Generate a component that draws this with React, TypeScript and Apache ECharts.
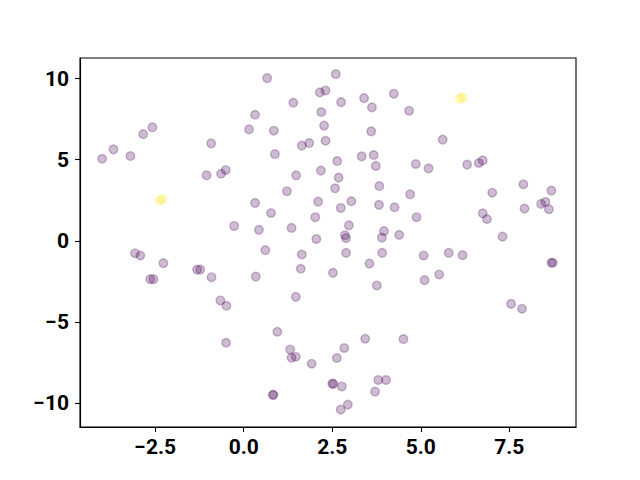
import React, { useEffect, useRef } from "react";
import * as echarts from "echarts";

const xTicks = [-2.5, 0, 2.5, 5, 7.5];
const yTicks = [-10, -5, 0, 5, 10];

// class 0 points (purple)
const purplePoints: [number, number][] = [
  [-4.0, 5.06], [-3.68, 5.64], [-3.2, 5.23], [-2.84, 6.58], [-2.58, 7.0],
  [-0.92, 6.01], [-1.05, 4.04], [-0.64, 4.14], [-0.51, 4.37], [-0.27, 0.92],
  [0.66, 10.03], [2.6, 10.28], [2.15, 9.15], [2.31, 9.27], [1.4, 8.51],
  [2.75, 8.55], [3.4, 8.8], [4.24, 9.07], [3.62, 8.23], [4.67, 8.02],
  [0.32, 7.77], [2.19, 7.94], [0.15, 6.87], [0.85, 6.79], [2.27, 7.1],
  [3.6, 6.75], [1.64, 5.87], [1.85, 6.03], [2.31, 6.17], [0.88, 5.35],
  [2.64, 4.92], [3.33, 5.21], [3.67, 5.29], [3.73, 4.62], [4.86, 4.74],
  [1.48, 4.04], [2.18, 4.33], [2.68, 3.9], [1.22, 3.06], [2.58, 3.24],
  [3.83, 3.38], [4.7, 2.87], [0.32, 2.34], [0.77, 1.72], [2.1, 2.42],
  [2.74, 2.03], [3.04, 2.44], [3.82, 2.22], [4.26, 2.07], [4.88, 1.46],
  [2.02, 1.46], [2.97, 0.96], [0.43, 0.68], [1.35, 0.8], [2.05, 0.12],
  [2.86, 0.35], [2.89, 0.17], [3.96, 0.6], [3.9, 0.2], [4.39, 0.37],
  [5.62, 6.24], [5.22, 4.47], [6.31, 4.7], [6.64, 4.8], [6.75, 4.96],
  [7.9, 3.49], [7.02, 2.97], [8.69, 3.1], [8.4, 2.28], [8.52, 2.4],
  [8.62, 1.95], [7.93, 1.99], [6.75, 1.7], [6.87, 1.35], [7.31, 0.26],
  [-3.07, -0.76], [-2.92, -0.9], [-2.27, -1.37], [-2.64, -2.36], [-2.55, -2.36],
  [-1.32, -1.77], [-1.23, -1.77], [-0.91, -2.24], [-0.66, -3.67], [-0.49, -4.0],
  [-0.5, -6.28],
  [0.61, -0.57], [1.64, -0.84], [2.89, -0.74], [3.91, -0.74], [3.55, -1.4],
  [0.34, -2.2], [1.61, -1.72], [2.52, -1.97], [3.76, -2.75], [1.47, -3.45],
  [0.95, -5.6], [3.43, -6.03], [4.51, -6.05], [1.31, -6.69], [2.84, -6.6],
  [1.35, -7.2], [1.47, -7.14], [2.63, -7.22], [1.92, -7.57], [2.5, -8.8],
  [2.53, -8.81], [2.77, -8.97], [3.8, -8.57], [4.02, -8.57], [3.71, -9.29],
  [0.82, -9.48], [0.84, -9.49], [2.94, -10.09], [2.74, -10.4],
  [5.08, -0.9], [5.79, -0.74], [6.18, -0.88], [5.52, -2.07], [5.11, -2.42],
  [8.69, -1.35], [8.73, -1.35], [7.55, -3.88], [7.86, -4.18],
];

// class 1 points (yellow)
const yellowPoints: [number, number][] = [
  [-2.37, 2.49], [-2.3, 2.58], [6.1, 8.77], [6.19, 8.83],
];

const fmt = (v: number, dec: number) => {
  const s = Math.abs(v).toFixed(dec);
  return v < 0 ? "\u2212" + s : s;
};

export default function App() {
  const ref = useRef<HTMLDivElement>(null);
  useEffect(() => {
    if (!ref.current) return;
    const chart = echarts.init(ref.current, null, { renderer: "svg" });
    const labelStyle = {
      color: "#000",
      fontSize: 21,
      fontWeight: "bold" as const,
      fontFamily: "Roboto",
    };
    chart.setOption({
      animation: false,
      backgroundColor: "#fff",
      grid: {
        left: 80,
        right: 64,
        top: 58,
        bottom: 53,
        show: true,
        borderColor: "#000",
        borderWidth: 1.1,
        containLabel: false,
      },
      xAxis: {
        type: "value",
        min: -4.625,
        max: 9.385,
        splitLine: { show: false },
        axisLine: { show: true, onZero: false, lineStyle: { color: "#000", width: 1.1 } },
        axisTick: { show: true, length: 5, lineStyle: { color: "#000", width: 1.1 }, customValues: xTicks },
        axisLabel: {
          ...labelStyle,
          margin: 9,
          customValues: xTicks,
          formatter: (v: number) => fmt(v, 1),
        },
      },
      yAxis: {
        type: "value",
        min: -11.47,
        max: 11.27,
        splitLine: { show: false },
        axisLine: { show: true, onZero: false, lineStyle: { color: "#000", width: 1.1 } },
        axisTick: { show: true, length: 5, lineStyle: { color: "#000", width: 1.1 }, customValues: yTicks },
        axisLabel: {
          ...labelStyle,
          margin: 11,
          customValues: yTicks,
          formatter: (v: number) => fmt(v, 0),
        },
      },
      series: [
        {
          type: "scatter",
          data: purplePoints,
          symbolSize: 8.6,
          itemStyle: {
            color: "rgba(68,1,84,0.33)",
            borderColor: "rgba(68,1,84,0.33)",
            borderWidth: 1.4,
          },
          emphasis: { disabled: true },
        },
        {
          type: "scatter",
          data: yellowPoints,
          symbolSize: 8.6,
          itemStyle: {
            color: "rgba(253,231,37,0.33)",
            borderColor: "rgba(253,231,37,0.33)",
            borderWidth: 1.4,
          },
          emphasis: { disabled: true },
        },
      ],
    });
    return () => chart.dispose();
  }, []);
  return (
    <div
      ref={ref}
      style={{ position: "fixed", left: 0, top: 0, width: 640, height: 480 }}
    />
  );
}
